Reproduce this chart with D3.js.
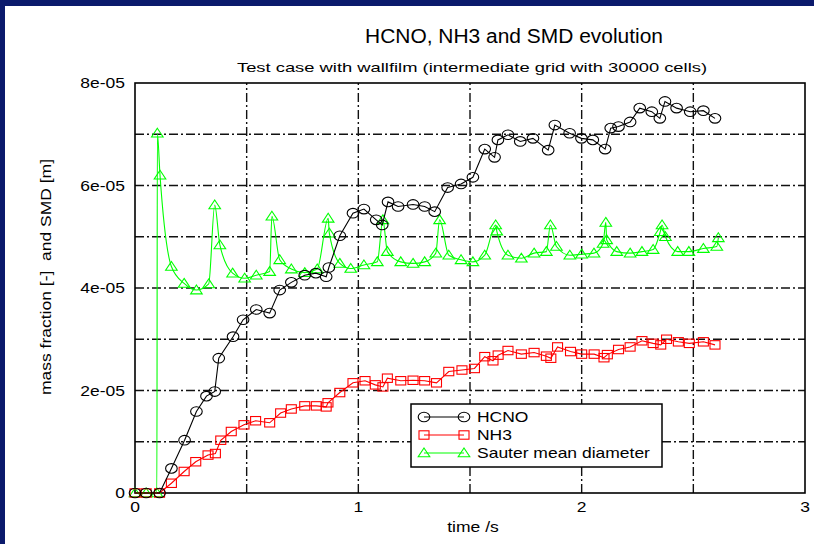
<!DOCTYPE html>
<html>
<head>
<meta charset="utf-8">
<script src="https://cdn.jsdelivr.net/npm/d3@7"></script>
<style>
  html, body { margin: 0; padding: 0; background: #0b1a6c; }
  svg { display: block; }
  text { font-family: "Liberation Sans", Arial, Helvetica, sans-serif; fill: #000; white-space: pre; }
</style>
</head>
<body>
<svg id="chart" width="814" height="544"></svg>
<script>
// time [s] and mass fraction / SMD values (in units of 1e-5)
const hcnoTime = [0, 0.05, 0.11, 0.163, 0.222, 0.275, 0.32, 0.357, 0.375, 0.439,
  0.484, 0.543, 0.603, 0.648, 0.70, 0.76, 0.81, 0.856, 0.868, 0.917, 0.976,
  1.025, 1.08, 1.107, 1.133, 1.178, 1.245, 1.297, 1.342, 1.40, 1.46,
  1.513, 1.566, 1.61, 1.625, 1.67, 1.725, 1.782, 1.85, 1.88, 1.946,
  1.999, 2.05, 2.105, 2.13, 2.165, 2.217, 2.26, 2.314, 2.35, 2.373,
  2.425, 2.486, 2.545, 2.597];
const hcnoValue = [0, 0, 0, 0.48, 1.03, 1.59, 1.89, 1.98, 2.63, 3.05,
  3.38, 3.58, 3.51, 3.96, 4.11, 4.25, 4.29, 4.22, 4.40, 5.02, 5.46,
  5.54, 5.33, 5.23, 5.68, 5.59, 5.63, 5.59, 5.49, 5.96, 6.03,
  6.16, 6.71, 6.55, 6.89, 6.99, 6.86, 6.92, 6.69, 7.18, 7.02,
  6.92, 6.89, 6.71, 7.12, 7.15, 7.24, 7.51, 7.44, 7.31, 7.64,
  7.51, 7.44, 7.46, 7.31];

const nh3Time = [0, 0.05, 0.11, 0.163, 0.22, 0.272, 0.327, 0.36, 0.384, 0.431,
  0.488, 0.54, 0.603, 0.652, 0.70, 0.76, 0.812, 0.856, 0.864, 0.917,
  0.976, 1.03, 1.076, 1.11, 1.13, 1.19, 1.245, 1.297, 1.35, 1.405,
  1.464, 1.52, 1.566, 1.603, 1.626, 1.67, 1.73, 1.787, 1.842, 1.862,
  1.892, 1.95, 2.0, 2.056, 2.10, 2.115, 2.165, 2.217, 2.27, 2.32,
  2.354, 2.38, 2.433, 2.482, 2.545, 2.597];
const nh3Value = [0, 0, 0, 0.19, 0.42, 0.61, 0.74, 0.77, 1.03, 1.20,
  1.33, 1.41, 1.37, 1.56, 1.64, 1.70, 1.70, 1.68, 1.76, 1.96,
  2.15, 2.19, 2.11, 2.07, 2.24, 2.19, 2.20, 2.19, 2.15, 2.37,
  2.40, 2.43, 2.66, 2.58, 2.69, 2.78, 2.71, 2.74, 2.67, 2.63,
  2.85, 2.76, 2.71, 2.71, 2.64, 2.70, 2.80, 2.85, 2.97, 2.92,
  2.89, 3.00, 2.95, 2.92, 2.95, 2.89];

const smdTime = [0, 0.05, 0.098, 0.1, 0.112, 0.163, 0.22, 0.275, 0.33, 0.357,
  0.38, 0.437, 0.491, 0.543, 0.603, 0.613, 0.648, 0.70, 0.76, 0.816,
  0.865, 0.87, 0.917, 0.966, 1.025, 1.085, 1.11, 1.13, 1.19, 1.245,
  1.297, 1.347, 1.364, 1.405, 1.46, 1.513, 1.566, 1.615, 1.62, 1.67,
  1.73, 1.787, 1.842, 1.86, 1.887, 1.947, 2.0, 2.055, 2.096, 2.108,
  2.112, 2.157, 2.217, 2.27, 2.32, 2.352, 2.36, 2.375, 2.43, 2.48,
  2.545, 2.605, 2.612];
const smdValue = [0, 0, 0, 7.02, 6.20, 4.42, 4.09, 3.96, 4.08, 5.62,
  4.84, 4.29, 4.19, 4.25, 4.32, 5.40, 4.55, 4.37, 4.30, 4.37,
  5.36, 5.07, 4.48, 4.38, 4.45, 4.51, 5.33, 4.71, 4.51, 4.48,
  4.51, 4.68, 5.33, 4.64, 4.55, 4.51, 4.64, 5.23, 5.11, 4.64,
  4.58, 4.68, 4.71, 5.23, 4.81, 4.64, 4.66, 4.68, 4.87, 5.28,
  4.94, 4.71, 4.68, 4.71, 4.75, 5.10, 5.23, 5.00, 4.71, 4.71,
  4.77, 4.81, 4.98];

const xTicks = [0, 1, 2, 3];
const xTickLabels = ["0", "1", "2", "3"];
const yTicks = [0, 2e-5, 4e-5, 6e-5, 8e-5];
const yTickLabels = ["0", "2e-05", "4e-05", "6e-05", "8e-05"];
const xGrid = [0.5, 1, 1.5, 2, 2.5];
const yGrid = [1e-5, 2e-5, 3e-5, 4e-5, 5e-5, 6e-5, 7e-5];
const seriesNames = ["HCNO", "NH3", "Sauter mean diameter"];
const UNIT = 1e-5;

const svg = d3.select("#chart");
const plotLeft = 135, plotRight = 805, plotTop = 83, plotBottom = 493;
const x = d3.scaleLinear().domain([0, 3]).range([plotLeft, plotRight]);
const y = d3.scaleLinear().domain([0, 8e-5]).range([plotBottom, plotTop]);

// page: navy frame with white sheet
svg.append("rect").attr("x", 5).attr("y", 6).attr("width", 809).attr("height", 538).attr("fill", "#fff");

const STRETCH = 1.25;
function label(str, px, py, size, anchor, opts = {}) {
  const t = svg.append("text")
    .attr("text-anchor", anchor)
    .style("font-size", size + "px")
    .text(str);
  if (opts.length) {
    t.attr("x", px).attr("y", py).attr("textLength", opts.length).attr("lengthAdjust", "spacingAndGlyphs");
  } else {
    const sx = opts.sx || STRETCH;
    t.attr("transform", `translate(${px},${py}) rotate(${opts.rot || 0}) scale(${sx},1)`);
  }
  return t;
}

// grid (dash-dot)
const grid = svg.append("g").attr("stroke", "#111").attr("stroke-width", 1.4).attr("stroke-dasharray", "9,3,2,3");
grid.selectAll("line.v").data(xGrid).join("line").attr("class", "v")
  .attr("x1", d => x(d)).attr("x2", d => x(d)).attr("y1", plotBottom).attr("y2", plotTop);
grid.selectAll("line.h").data(yGrid).join("line").attr("class", "h")
  .attr("x1", plotLeft).attr("x2", plotRight).attr("y1", d => y(d)).attr("y2", d => y(d));

// frame
svg.append("rect").attr("x", plotLeft).attr("y", plotTop)
  .attr("width", plotRight - plotLeft).attr("height", plotBottom - plotTop)
  .attr("fill", "none").attr("stroke", "#000").attr("stroke-width", 1.6);

// tick labels
yTicks.forEach((v, i) => label(yTickLabels[i], 125, y(v) + 5, 14, "end"));
xTicks.forEach((v, i) => label(xTickLabels[i], x(v), 512, 14, "middle"));

// titles
label("HCNO, NH3 and SMD evolution", 365, 43, 20, "start", { length: 298 });
label("Test case with wallfilm (intermediate grid with 30000 cells)", 237, 72, 13, "start", { length: 470 });
label("time /s", 473, 532, 14, "middle");
label("mass fraction [-]  and SMD [m]", 51, 277, 14, "middle", { rot: -90 });

// marker shapes (slightly wide, as drawn by the plotting device)
const markers = {
  circle: g => g.append("ellipse").attr("rx", 5.8).attr("ry", 4.8),
  square: g => g.append("rect").attr("x", -5).attr("y", -4.2).attr("width", 10).attr("height", 8.4),
  triangle: g => g.append("path").attr("d", "M0,-5L5.8,3.8L-5.8,3.8Z")
};

function series(times, values, color, shape, curve) {
  const pts = times.map((t, i) => [t, values[i] * UNIT]);
  const g = svg.append("g");
  g.append("path").datum(pts)
    .attr("fill", "none").attr("stroke", color).attr("stroke-width", 1.1)
    .attr("d", d3.line().x(d => x(d[0])).y(d => y(d[1])).curve(curve));
  const m = g.selectAll("g.m").data(pts).join("g").attr("class", "m")
    .attr("transform", d => `translate(${x(d[0])},${y(d[1])})`)
    .attr("fill", "none").attr("stroke", color).attr("stroke-width", 1.1);
  m.each(function () { markers[shape](d3.select(this)); });
}

series(smdTime, smdValue, "#00ff00", "triangle", d3.curveMonotoneX);
series(nh3Time, nh3Value, "#ff0000", "square", d3.curveLinear);
series(hcnoTime, hcnoValue, "#000000", "circle", d3.curveLinear);

// legend
const lg = svg.append("g");
lg.append("rect").attr("x", 411).attr("y", 404).attr("width", 251).attr("height", 63)
  .attr("fill", "#fff").attr("stroke", "#000").attr("stroke-width", 1.5);
const legendRows = [
  { name: seriesNames[0], color: "#000000", shape: "circle", cy: 417 },
  { name: seriesNames[1], color: "#ff0000", shape: "square", cy: 435 },
  { name: seriesNames[2], color: "#00ff00", shape: "triangle", cy: 453 }
];
legendRows.forEach(r => {
  lg.append("line").attr("x1", 424).attr("x2", 464).attr("y1", r.cy).attr("y2", r.cy)
    .attr("stroke", r.color).attr("stroke-width", 1.1);
  [424, 464].forEach(px => {
    const m = lg.append("g").attr("transform", `translate(${px},${r.cy})`)
      .attr("fill", "none").attr("stroke", r.color).attr("stroke-width", 1.1);
    markers[r.shape](m);
  });
  lg.append("text")
    .attr("transform", `translate(477,${r.cy + 5}) scale(${STRETCH},1)`)
    .style("font-size", "14px").text(r.name);
});
</script>
</body>
</html>
